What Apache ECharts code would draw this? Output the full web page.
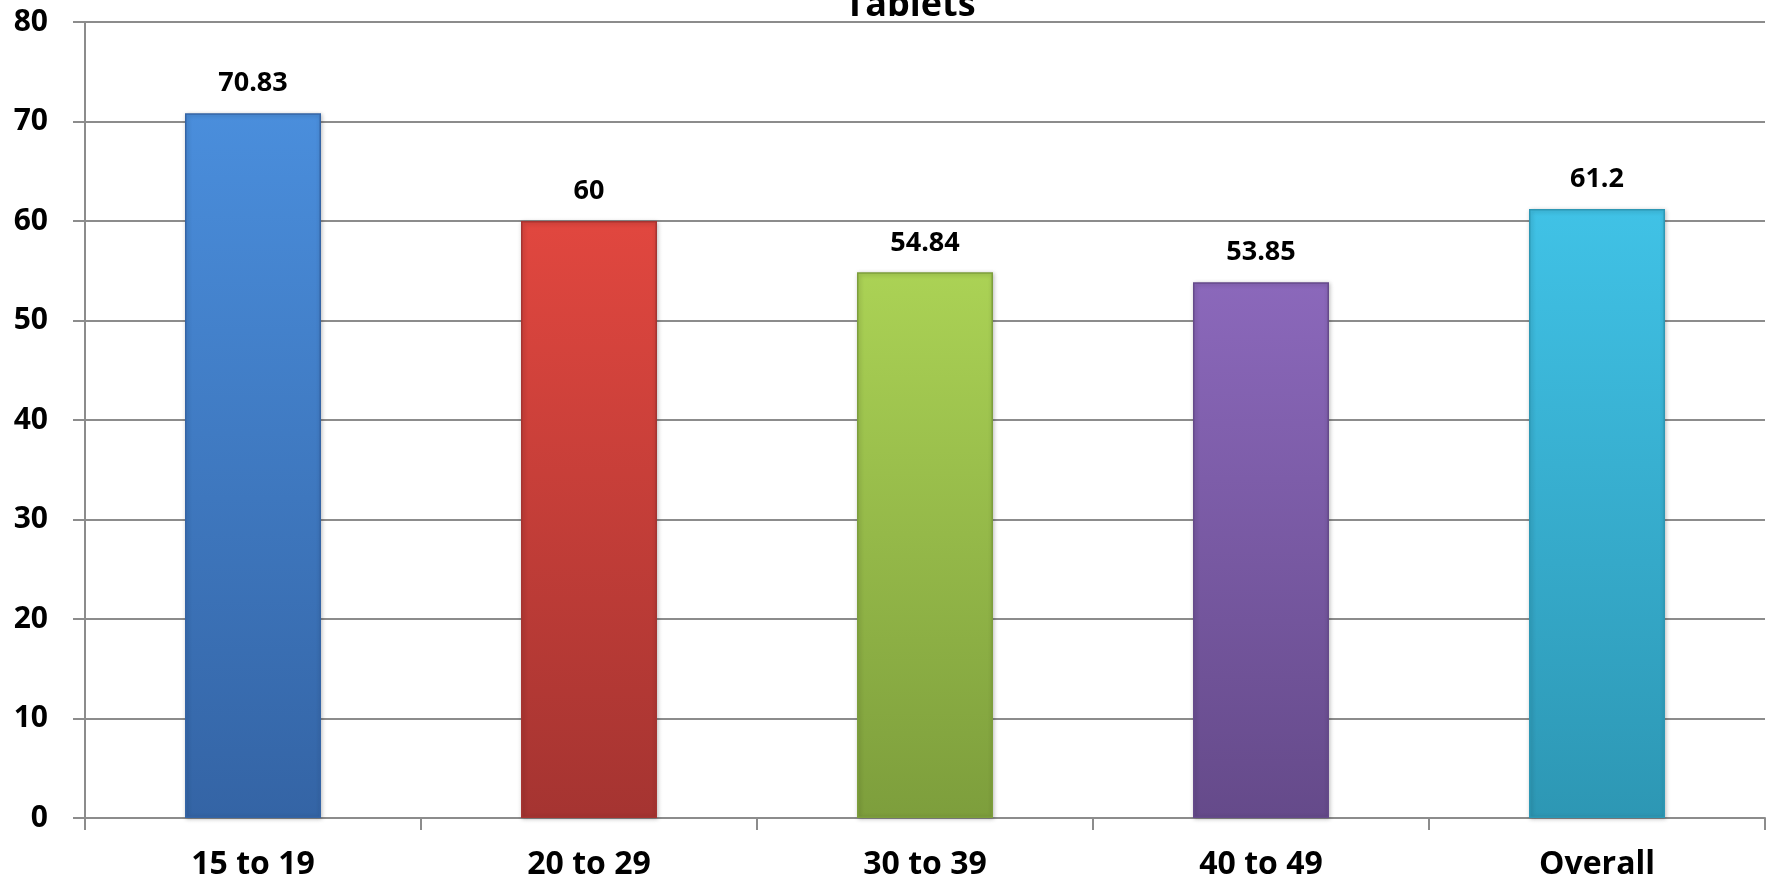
<!DOCTYPE html>
<html>
<head>
<meta charset="utf-8">
<script src="https://cdn.jsdelivr.net/npm/echarts@6/dist/echarts.min.js"></script>
<style>html,body{margin:0;padding:0;background:#fff}#c{width:1773px;height:883px}</style>
</head>
<body>
<div id="c"></div>
<script>
const categories = ['15 to 19', '20 to 29', '30 to 39', '40 to 49', 'Overall'];
const values = [70.83, 60, 54.84, 53.85, 61.2];
const yTicks = [0, 10, 20, 30, 40, 50, 60, 70, 80];
const titleText = 'Tablets';
const barTopColors = ['#4a8edc', '#e1473f', '#abd255', '#8b68bb', '#40c2e6'];
const barBottomColors = ['#3464a5', '#a53431', '#7d9e3c', '#654a8a', '#2d97b4'];

const FONT = '"Open Sans", Lato, sans-serif';
const chart = echarts.init(document.getElementById('c'));
chart.setOption({
  backgroundColor: '#ffffff',
  animation: false,
  title: {
    text: titleText,
    left: 905,
    top: -17,
    textAlign: 'center',
    textStyle: { fontFamily: FONT, fontWeight: 'bold', fontSize: 36, color: '#000' }
  },
  grid: { left: 85, right: 8, top: 22, bottom: 65, containLabel: false },
  xAxis: {
    type: 'category',
    data: categories,
    boundaryGap: true,
    axisLine: { show: true, lineStyle: { color: '#8c8c8c', width: 2 } },
    axisTick: { show: true, length: 12, lineStyle: { color: '#8c8c8c', width: 2 } },
    axisLabel: { margin: 31, fontFamily: FONT, fontWeight: 'bold', fontSize: 32, color: '#000' }
  },
  yAxis: {
    type: 'value',
    min: yTicks[0],
    max: yTicks[yTicks.length - 1],
    interval: yTicks[1] - yTicks[0],
    axisLine: { show: true, lineStyle: { color: '#8c8c8c', width: 2 } },
    axisTick: { show: true, length: 12, lineStyle: { color: '#8c8c8c', width: 2 } },
    splitLine: { show: true, lineStyle: { color: '#8c8c8c', width: 2 } },
    axisLabel: { margin: 37, fontFamily: FONT, fontWeight: 'bold', fontSize: 30, color: '#000' }
  },
  series: [{
    type: 'bar',
    barWidth: 136,
    data: values.map((v, i) => ({
      value: v,
      itemStyle: {
        color: new echarts.graphic.LinearGradient(0, 0, 0, 1, [
          { offset: 0, color: barTopColors[i] },
          { offset: 1, color: barBottomColors[i] }
        ]),
        borderColor: barBottomColors[i],
        borderWidth: 1.5,
        shadowBlur: 4,
        shadowColor: 'rgba(0,0,0,0.25)',
        shadowOffsetX: 1,
        shadowOffsetY: 1
      }
    })),
    label: {
      show: true,
      position: 'top',
      distance: 16,
      fontFamily: FONT,
      fontWeight: 'bold',
      fontSize: 27,
      color: '#000'
    }
  }]
});
</script>
</body>
</html>
